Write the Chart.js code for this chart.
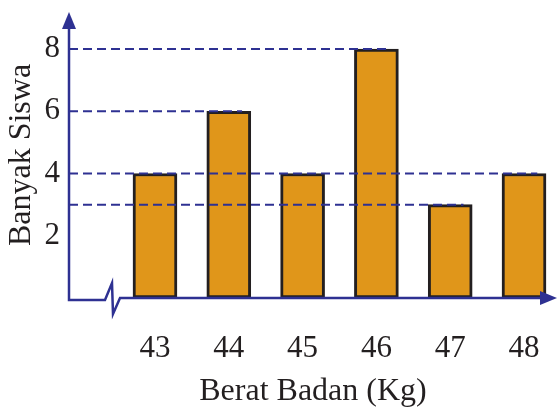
<!DOCTYPE html>
<html>
<head>
<meta charset="utf-8">
<script src="https://cdn.jsdelivr.net/npm/chart.js@4"></script>
<style>
  body { margin: 0; background: #fff; }
</style>
</head>
<body>
<canvas id="c" width="557" height="408"></canvas>
<script>
const weights = [43, 44, 45, 46, 47, 48];
const students = [4, 6, 4, 8, 3, 4];
const yTicks = [2, 4, 6, 8];
const guideLevels = [8, 6, 4, 3];

const blue = "#2e3192";
const serif = "'Liberation Serif', 'DejaVu Serif', serif";

// dashed guide lines, axis arrows and the axis break
const decor = {
  id: "decor",
  afterDatasetsDraw(chart) {
    const { ctx, chartArea, scales } = chart;
    const x = scales.x, y = scales.y;
    const left = chartArea.left, bottom = chartArea.bottom;

    ctx.save();
    ctx.strokeStyle = blue;
    ctx.lineWidth = 2;
    ctx.setLineDash([9, 5]);
    guideLevels.forEach((lvl) => {
      // line runs to the rightmost bar with this height
      let last = 0;
      students.forEach((v, i) => { if (v === lvl) last = i; });
      const py = y.getPixelForValue(lvl);
      ctx.beginPath();
      ctx.moveTo(left, py);
      ctx.lineTo(x.getPixelForValue(weights[last] + 0.18), py);
      ctx.stroke();
    });
    ctx.restore();

    ctx.save();
    ctx.strokeStyle = blue;
    ctx.fillStyle = blue;
    ctx.lineWidth = 2.5;
    ctx.beginPath();
    ctx.moveTo(left, chartArea.top + 10);
    ctx.lineTo(left, bottom + 2);
    ctx.lineTo(left + 36, bottom + 2);
    ctx.lineTo(left + 43, bottom - 15);
    ctx.lineTo(left + 44, bottom + 16);
    ctx.lineTo(left + 51, bottom);
    ctx.lineTo(chartArea.right - 10, bottom);
    ctx.stroke();

    ctx.beginPath();
    ctx.moveTo(left, chartArea.top);
    ctx.lineTo(left - 7, chartArea.top + 17);
    ctx.lineTo(left + 7, chartArea.top + 17);
    ctx.closePath();
    ctx.fill();

    ctx.beginPath();
    ctx.moveTo(chartArea.right, bottom);
    ctx.lineTo(chartArea.right - 17, bottom - 7);
    ctx.lineTo(chartArea.right - 17, bottom + 7);
    ctx.closePath();
    ctx.fill();
    ctx.restore();
  },
};

new Chart(document.getElementById("c"), {
  type: "bar",
  data: {
    datasets: [
      {
        data: weights.map((w, i) => ({ x: w, y: students[i] })),
        backgroundColor: "#e0961a",
        borderColor: "#231f20",
        borderWidth: 3,
        borderSkipped: false,
        barThickness: 44,
      },
    ],
  },
  options: {
    responsive: false,
    animation: false,
    layout: { padding: { top: 12, right: 0, left: 0, bottom: 0 } },
    plugins: { legend: { display: false }, tooltip: { enabled: false } },
    scales: {
      x: {
        type: "linear",
        offset: false,
        min: 41.835,
        max: 48.447,
        afterBuildTicks: (s) => { s.ticks = weights.map((v) => ({ value: v })); },
        afterFit: (s) => { s.height = 110; s.paddingLeft = 0; s.paddingRight = 0; },
        grid: { display: false, drawTicks: false },
        border: { display: false },
        ticks: { padding: 32, color: "#231f20", font: { family: serif, size: 31 }, maxRotation: 0 },
        title: {
          display: true,
          text: "Berat Badan (Kg)",
          color: "#231f20",
          font: { family: serif, size: 32 },
          padding: { top: 0, bottom: -3 },
        },
      },
      y: {
        min: 0,
        max: 9.19,
        afterBuildTicks: (s) => { s.ticks = yTicks.map((v) => ({ value: v })); },
        afterFit: (s) => { s.width = 69; s.paddingTop = 0; s.paddingBottom = 0; },
        grid: { display: false, drawTicks: false },
        border: { display: false },
        ticks: { padding: 9, color: "#231f20", font: { family: serif, size: 31 } },
        title: {
          display: true,
          text: "Banyak Siswa",
          color: "#231f20",
          font: { family: serif, size: 32 },
          padding: { top: 2, bottom: 0 },
        },
      },
    },
  },
  plugins: [decor],
});
</script>
</body>
</html>
